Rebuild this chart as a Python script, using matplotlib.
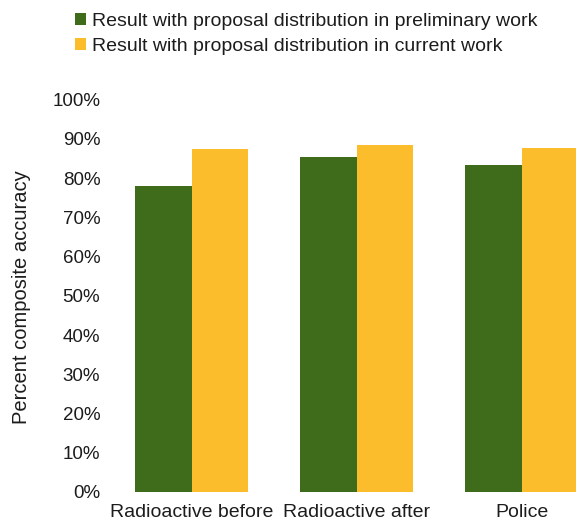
import matplotlib
matplotlib.use("Agg")
import matplotlib.pyplot as plt
import numpy as np
from matplotlib.ticker import FuncFormatter

plt.rcParams['font.family'] = ['Liberation Sans', 'DejaVu Sans']

categories = ["Radioactive before", "Radioactive after", "Police"]
preliminary = [78.0, 85.5, 83.3]
current = [87.4, 88.4, 87.6]
series_names = ["Result with proposal distribution in preliminary work",
                "Result with proposal distribution in current work"]
yticks = list(range(0, 101, 10))

green = "#3f6c1b"
yellow = "#fbbd2c"
text_color = "#1c1c1c"

fig = plt.figure(figsize=(5.76, 5.23), dpi=100)
ax = fig.add_axes([0.191, 0.0593, 0.809, 0.75])

x = np.arange(len(categories))
w = 0.34
b1 = ax.bar(x - w / 2, preliminary, width=w, color=green, label=series_names[0])
b2 = ax.bar(x + w / 2, current, width=w, color=yellow, label=series_names[1])

ax.set_xlim(-0.494, 2.33)
ax.set_ylim(0, 100)
ax.set_yticks(yticks)
ax.yaxis.set_major_formatter(FuncFormatter(lambda v, p: f"{int(v)}%"))
ax.set_xticks(x)
ax.set_xticklabels(categories)
ax.tick_params(axis='both', length=0, colors=text_color)
ax.tick_params(axis='y', pad=7, labelsize=13.5)
ax.tick_params(axis='x', pad=8.5, labelsize=14)
for s in ax.spines.values():
    s.set_visible(False)

ax.set_ylabel("Percent composite accuracy", fontsize=14.5, color=text_color)
ax.yaxis.set_label_coords(-0.17, 0.497)

fig.legend(handles=[b1, b2], loc="upper left", bbox_to_anchor=(75 / 576, 1 - 12.5 / 523),
           frameon=False, fontsize=14, handlelength=0.55, handleheight=0.6,
           handletextpad=0.35, labelspacing=0.42, borderpad=0, borderaxespad=0,
           labelcolor=text_color)

fig.savefig("out.png", dpi=100)
